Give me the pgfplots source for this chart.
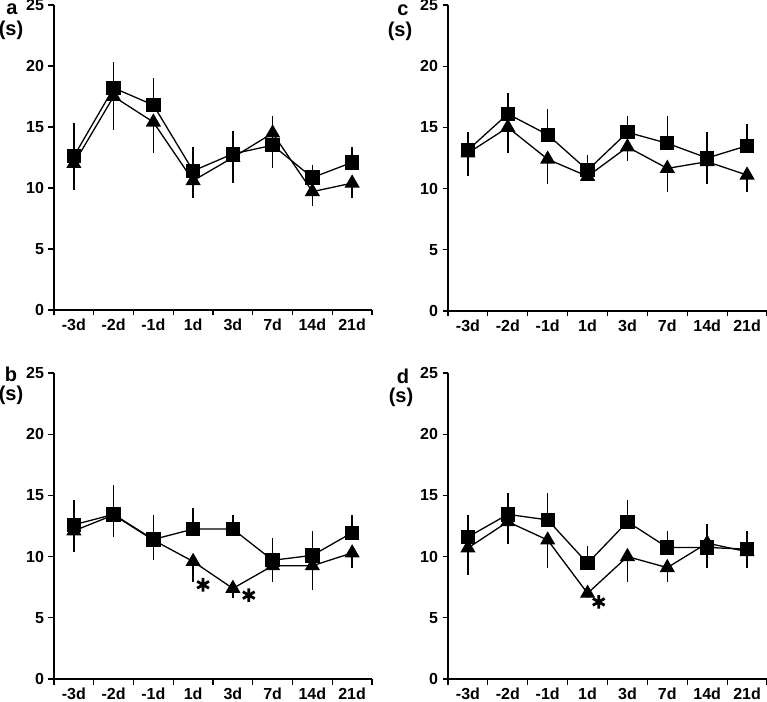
\documentclass[border=0pt]{standalone}
\usepackage{fontspec}
\setmainfont{Liberation Sans}
\usepackage{pgfplots}
\pgfplotsset{compat=1.18}
\pgfplotsset{
  panel/.style={
    scale only axis, width=318pt, height=305pt,
    xmin=0, xmax=8, ymin=0, ymax=25,
    axis x line*=bottom, axis y line*=left,
    axis line style={-, line width=1.4pt},
    xtick={0,...,8}, x tick label as interval,
    xticklabels={-3d,-2d,-1d,1d,3d,7d,14d,21d},
    ytick={0,5,...,25},
    tick align=outside, major tick length=5.5pt,
    tick style={black, line width=1.2pt},
    ticklabel style={font=\bfseries\fontsize{16}{16}\selectfont, inner sep=1pt},
    yticklabel style={xshift=-3.3pt},
    xticklabel style={yshift=-2.5pt},
    /pgf/number format/assume math mode=true,
    clip=false,
  },
  sq/.style={black, line width=1.3pt, mark=square*, mark size=6.5pt,
    error bars/.cd, y dir=plus, y explicit, error mark=none,
    error bar style={line width=1.4pt}},
  tri/.style={black, line width=1.3pt, mark=triangle*, mark size=7.5pt,
    error bars/.cd, y dir=minus, y explicit, error mark=none,
    error bar style={line width=1.4pt}},
}
\newcommand{\astmark}[2]{%
  \draw[shift={(axis cs:#1,#2)}, line width=2.8pt, black]
    (0pt,-6.8pt)--(0pt,6.8pt)
    (-5.9pt,-3.4pt)--(5.9pt,3.4pt)
    (-5.9pt,3.4pt)--(5.9pt,-3.4pt);}
\newcommand{\lab}{\bfseries\fontsize{20}{20}\selectfont}
\begin{document}
\begin{tikzpicture}[x=1pt,y=1pt]
\path[use as bounding box] (0,0) rectangle (767,701);
% panel a
\begin{axis}[panel, at={(54pt,391pt)}, anchor=south west]
\addplot[sq] coordinates {(0.5,12.6) += (0,2.7) (1.5,18.2) += (0,2.1) (2.5,16.8) += (0,2.2) (3.5,11.4) += (0,2.0) (4.5,12.8) += (0,1.9) (5.5,13.5) += (0,2.4) (6.5,10.85) += (0,1.05) (7.5,12.1) += (0,1.3)};
\addplot[tri] coordinates {(0.5,12.0) -= (0,2.2) (1.5,17.5) -= (0,2.75) (2.5,15.4) -= (0,2.5) (3.5,10.6) -= (0,1.45) (4.5,12.5) -= (0,2.1) (5.5,14.5) -= (0,2.9) (6.5,9.7) -= (0,1.2) (7.5,10.4) -= (0,1.25)};
\end{axis}
% panel c
\begin{axis}[panel, width=319pt, height=306pt, at={(448pt,390pt)}, anchor=south west]
\addplot[sq] coordinates {(0.5,13.15) += (0,1.5) (1.5,16.1) += (0,1.7) (2.5,14.4) += (0,2.1) (3.5,11.5) += (0,1.25) (4.5,14.6) += (0,1.3) (5.5,13.7) += (0,2.2) (6.5,12.5) += (0,2.15) (7.5,13.5) += (0,1.8)};
\addplot[tri] coordinates {(0.5,12.9) -= (0,1.9) (1.5,15.0) -= (0,2.1) (2.5,12.4) -= (0,2.0) (3.5,11.0) -= (0,0.4) (4.5,13.4) -= (0,1.15) (5.5,11.65) -= (0,1.9) (6.5,12.2) -= (0,1.8) (7.5,11.1) -= (0,1.35)};
\end{axis}
% panel b
\begin{axis}[panel, height=306pt, at={(54pt,22pt)}, anchor=south west]
\addplot[sq] coordinates {(0.5,12.6) += (0,2.0) (1.5,13.45) += (0,2.4) (2.5,11.4) += (0,2.0) (3.5,12.25) += (0,1.75) (4.5,12.25) += (0,1.15) (5.5,9.7) += (0,1.8) (6.5,10.1) += (0,2.0) (7.5,11.95) += (0,1.45)};
\addplot[tri] coordinates {(0.5,12.1) -= (0,1.7) (1.5,13.4) -= (0,1.8) (2.5,11.35) -= (0,1.65) (3.5,9.6) -= (0,1.65) (4.5,7.4) -= (0,0.8) (5.5,9.25) -= (0,1.3) (6.5,9.25) -= (0,1.95) (7.5,10.3) -= (0,1.2)};
\astmark{3.75}{7.7}
\astmark{4.9}{6.85}
\end{axis}
% panel d
\begin{axis}[panel, width=319pt, height=306pt, at={(448pt,22pt)}, anchor=south west]
\addplot[sq] coordinates {(0.5,11.6) += (0,1.8) (1.5,13.45) += (0,1.75) (2.5,13.0) += (0,2.2) (3.5,9.45) += (0,1.45) (4.5,12.85) += (0,1.75) (5.5,10.75) += (0,1.35) (6.5,10.75) += (0,1.95) (7.5,10.6) += (0,1.5)};
\addplot[tri] coordinates {(0.5,10.7) -= (0,2.2) (1.5,12.85) -= (0,1.85) (2.5,11.35) -= (0,2.25) (3.5,7.0) -= (0,0.4) (4.5,10.0) -= (0,2.1) (5.5,9.1) -= (0,1.2) (6.5,11.1) -= (0,2.0) (7.5,10.4) -= (0,1.3)};
\astmark{3.78}{6.3}
\end{axis}
% panel letters and units
\node[font=\lab, inner sep=0pt] at (12,692) {a};
\node[font=\lab, inner sep=0pt] at (11,671) {(s)};
\node[font=\lab, inner sep=0pt] at (403,691) {c};
\node[font=\lab, inner sep=0pt] at (400,670) {(s)};
\node[font=\lab, inner sep=0pt] at (11,327) {b};
\node[font=\lab, inner sep=0pt] at (11,306) {(s)};
\node[font=\lab, inner sep=0pt] at (403,325) {d};
\node[font=\lab, inner sep=0pt] at (401,304) {(s)};
\end{tikzpicture}
\end{document}
